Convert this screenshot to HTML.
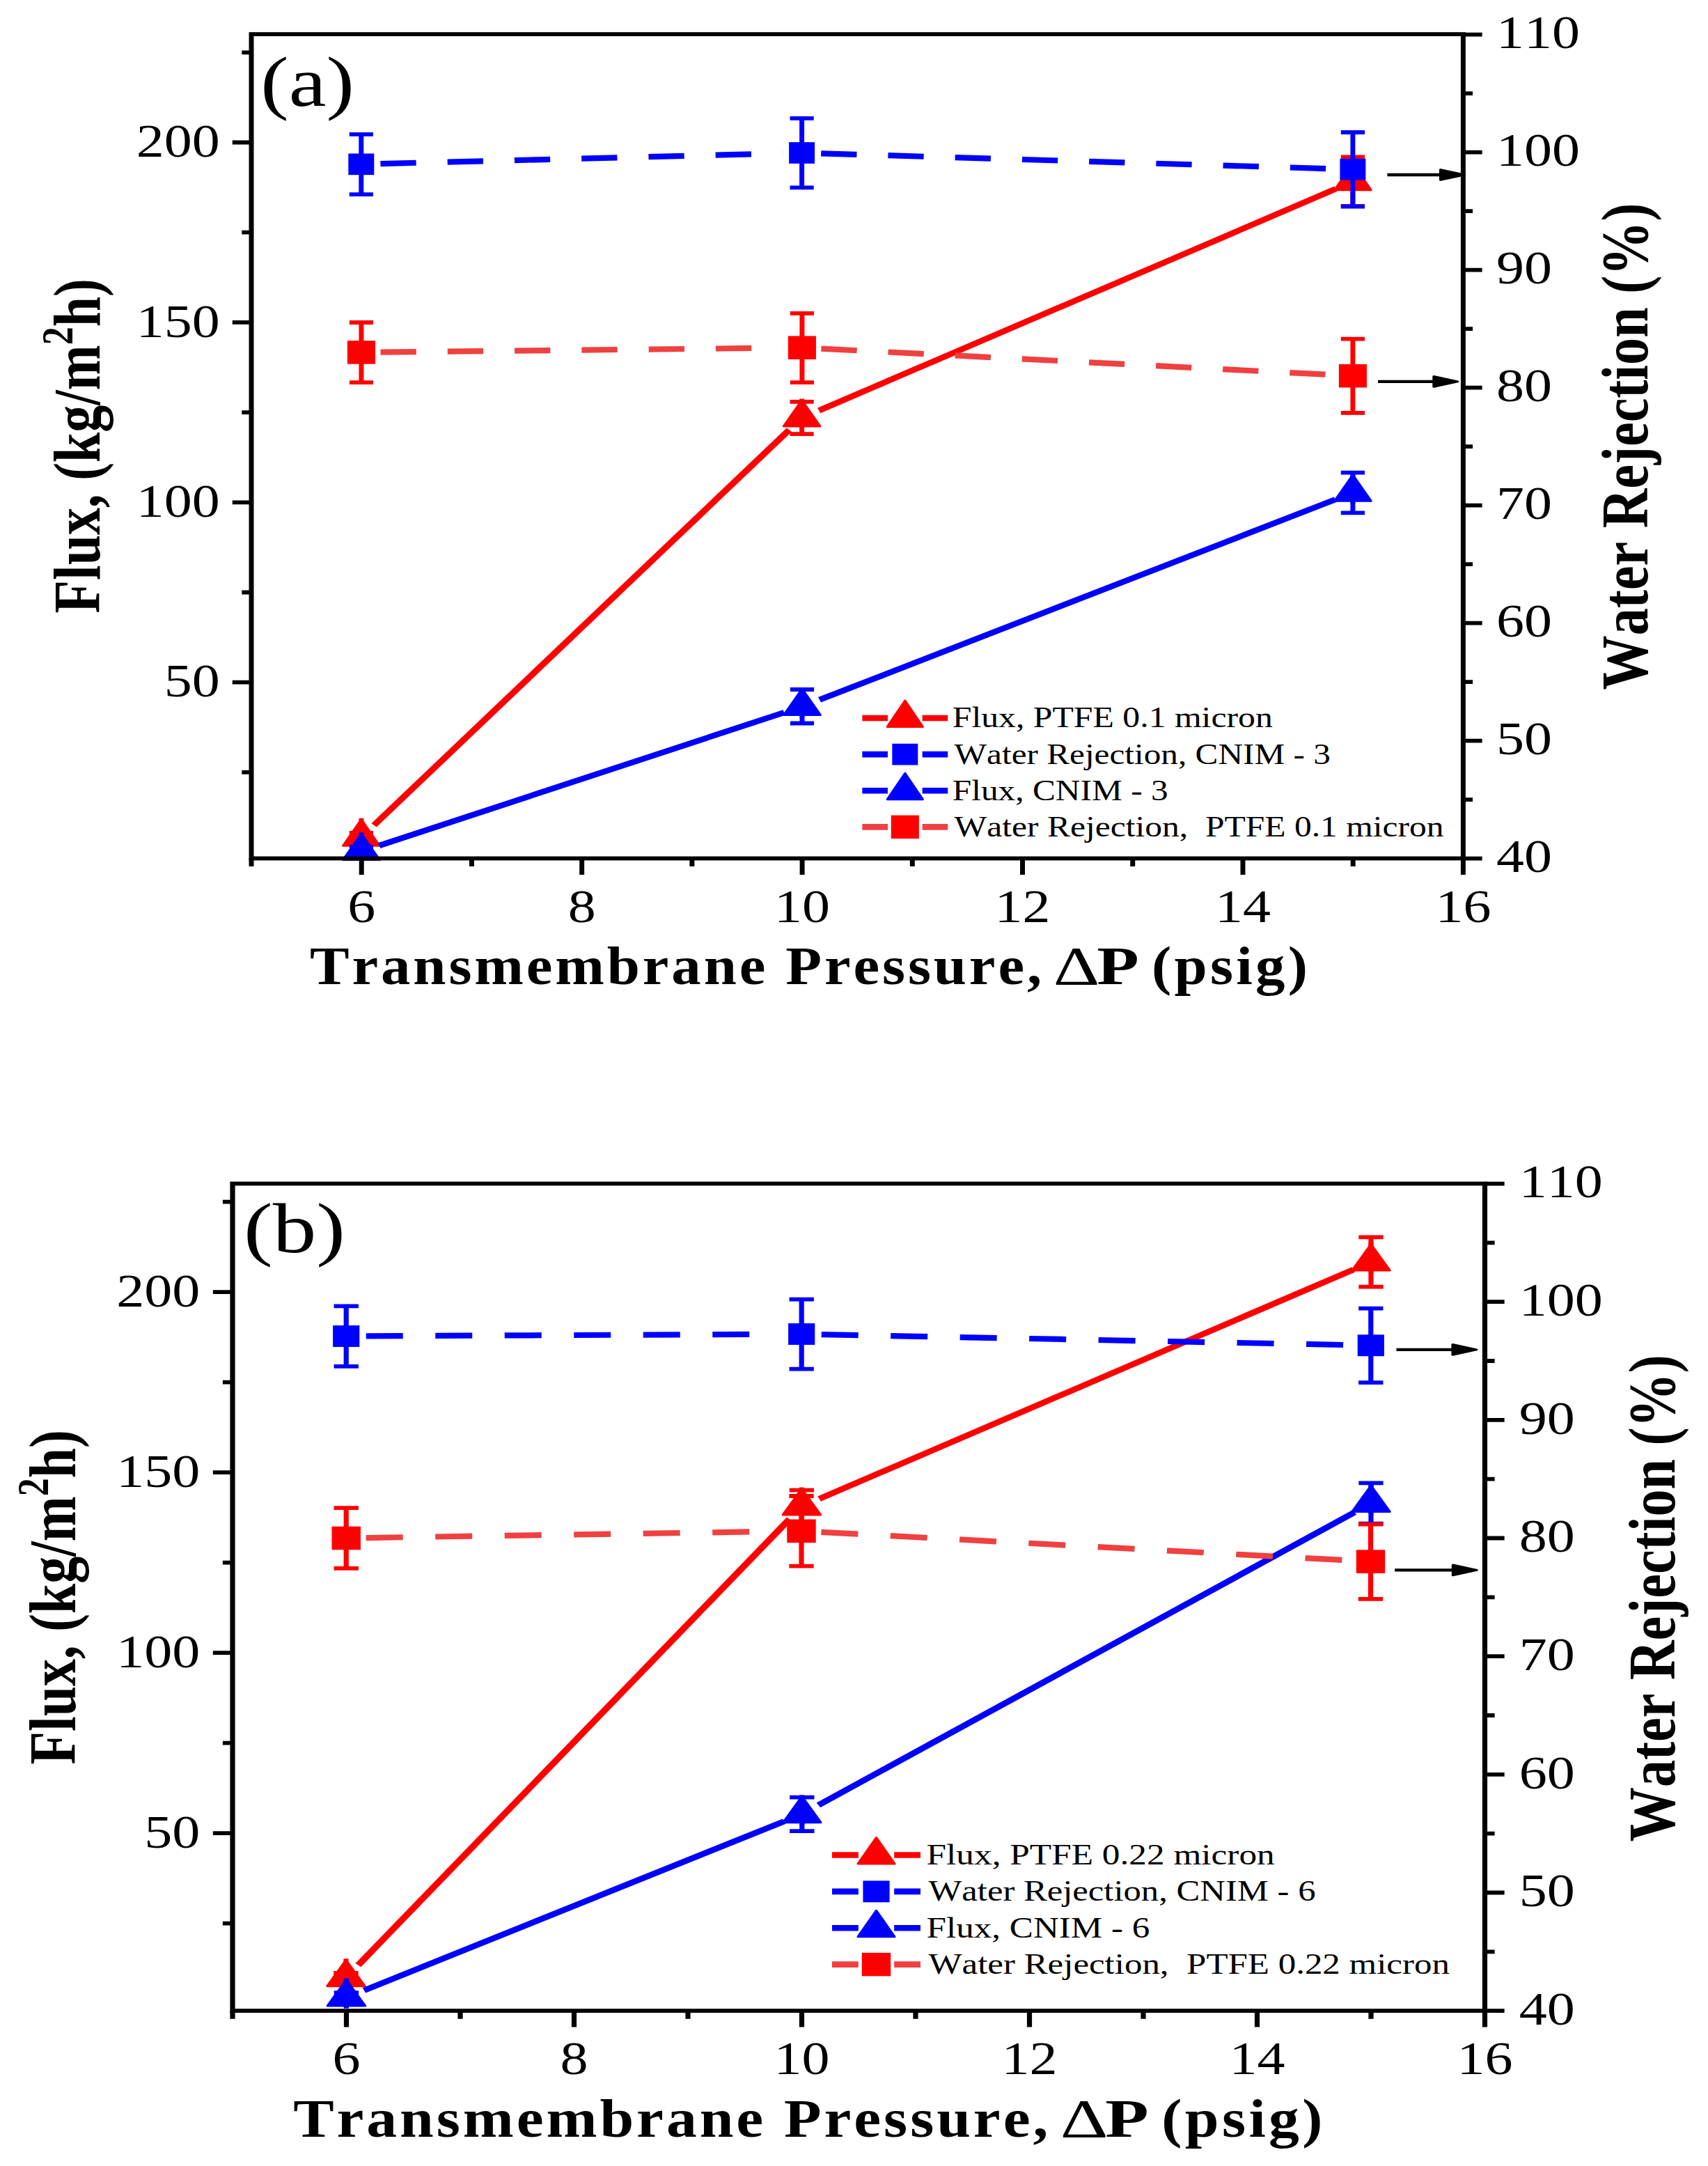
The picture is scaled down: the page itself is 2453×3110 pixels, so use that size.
<!DOCTYPE html>
<html><head><meta charset="utf-8"><title>Flux and water rejection vs transmembrane pressure</title>
<style>
html,body{margin:0;padding:0;background:#fff}
svg{display:block}
text{font-family:"Liberation Serif",serif;fill:#000;font-kerning:none}
</style></head><body>
<svg width="2453" height="3110" viewBox="0 0 2453 3110">
<rect width="2453" height="3110" fill="#fff"/>
<g transform="scale(1.2 1)">
<clipPath id="ca"><rect x="300.83" y="49.1" width="1450.33" height="1187"/></clipPath>
<g clip-path="url(#ca)">
<path d="M447.57 1184.9L944.52 617.3" stroke="#ff0000" stroke-width="8.2" fill="none"/>
<path d="M980.12 589.48L1598.63 271.22" stroke="#ff0000" stroke-width="8.2" fill="none"/>
<path d="M432.42 1196V1208M418.17 1196H446.67M418.17 1208H446.67" stroke="#ff0000" stroke-width="5.8" fill="none"/>
<path d="M959.67 576.8V623.2M945.42 576.8H973.92M945.42 623.2H973.92" stroke="#ff0000" stroke-width="5.8" fill="none"/>
<path d="M1619.08 225.4V296M1604.83 225.4H1633.33M1604.83 296H1633.33" stroke="#ff0000" stroke-width="5.8" fill="none"/>
<polygon points="432.42,1176.85 454.12,1214.15 410.72,1214.15" fill="#ff0000" stroke="#ff0000" stroke-width="3" stroke-linejoin="round"/>
<rect x="429.52" y="1174.8" width="5.8" height="42.9" fill="#ff0000"/>
<polygon points="959.67,574.65 981.37,611.95 937.97,611.95" fill="#ff0000" stroke="#ff0000" stroke-width="3" stroke-linejoin="round"/>
<rect x="956.77" y="572.6" width="5.8" height="42.9" fill="#ff0000"/>
<polygon points="1619.08,235.35 1640.78,272.65 1597.38,272.65" fill="#ff0000" stroke="#ff0000" stroke-width="3" stroke-linejoin="round"/>
<rect x="1616.18" y="233.3" width="5.8" height="42.9" fill="#ff0000"/>
<path d="M455.32 235.09L936.68 220.21" stroke="#0000ff" stroke-width="8.2" fill="none" stroke-dasharray="42.75 37.5"/>
<path d="M982.65 220.33L1596.1 242.37" stroke="#0000ff" stroke-width="8.2" fill="none" stroke-dasharray="42.75 37.5"/>
<path d="M432.33 192.9V279.1M418.08 192.9H446.58M418.08 279.1H446.58" stroke="#0000ff" stroke-width="5.8" fill="none"/>
<path d="M959.67 169.8V269.3M945.42 169.8H973.92M945.42 269.3H973.92" stroke="#0000ff" stroke-width="5.8" fill="none"/>
<path d="M1619.08 190V296.5M1604.83 190H1633.33M1604.83 296.5H1633.33" stroke="#0000ff" stroke-width="5.8" fill="none"/>
<rect x="416.93" y="220.45" width="30.8" height="30.7" fill="#0000ff"/>
<rect x="944.27" y="204.15" width="30.8" height="30.7" fill="#0000ff"/>
<rect x="1603.68" y="227.85" width="30.8" height="30.7" fill="#0000ff"/>
<path d="M453.81 1214.16L938.6 1022.94" stroke="#0000ff" stroke-width="8.2" fill="none"/>
<path d="M980.85 1004.79L1598.24 717.11" stroke="#0000ff" stroke-width="8.2" fill="none"/>
<path d="M432.42 1216V1229M418.17 1216H446.67M418.17 1229H446.67" stroke="#0000ff" stroke-width="5.8" fill="none"/>
<path d="M960 990V1038.5M945.75 990H974.25M945.75 1038.5H974.25" stroke="#0000ff" stroke-width="5.8" fill="none"/>
<path d="M1619.08 678.6V736.4M1604.83 678.6H1633.33M1604.83 736.4H1633.33" stroke="#0000ff" stroke-width="5.8" fill="none"/>
<polygon points="432.42,1197.25 454.12,1234.55 410.72,1234.55" fill="#0000ff" stroke="#0000ff" stroke-width="3" stroke-linejoin="round"/>
<rect x="429.52" y="1195.2" width="5.8" height="42.9" fill="#0000ff"/>
<polygon points="960,989.15 981.7,1026.45 938.3,1026.45" fill="#0000ff" stroke="#0000ff" stroke-width="3" stroke-linejoin="round"/>
<rect x="957.1" y="987.1" width="5.8" height="42.9" fill="#0000ff"/>
<polygon points="1619.08,682.05 1640.78,719.35 1597.38,719.35" fill="#0000ff" stroke="#0000ff" stroke-width="3" stroke-linejoin="round"/>
<rect x="1616.18" y="680" width="5.8" height="42.9" fill="#0000ff"/>
<path d="M455.41 505.61L936.92 499.49" stroke="#f04040" stroke-width="8.2" fill="none" stroke-dasharray="42.75 37.5"/>
<path d="M982.87 500.61L1596.13 538.29" stroke="#f04040" stroke-width="8.2" fill="none" stroke-dasharray="42.75 37.5"/>
<path d="M432.42 463V549.2M418.17 463H446.67M418.17 549.2H446.67" stroke="#ff0000" stroke-width="5.8" fill="none"/>
<path d="M959.92 449.9V549.2M945.67 449.9H974.17M945.67 549.2H974.17" stroke="#ff0000" stroke-width="5.8" fill="none"/>
<path d="M1619.08 486.7V592.8M1604.83 486.7H1633.33M1604.83 592.8H1633.33" stroke="#ff0000" stroke-width="5.8" fill="none"/>
<rect x="415.72" y="489.15" width="33.4" height="33.5" fill="#ff0000"/>
<rect x="943.22" y="482.45" width="33.4" height="33.5" fill="#ff0000"/>
<rect x="1602.38" y="522.95" width="33.4" height="33.5" fill="#ff0000"/>
</g>
<rect x="300.83" y="49.1" width="1450.33" height="1183.4" fill="none" stroke="#000" stroke-width="5.8"/>
<path d="M300.83 1232.5v11.6M432.68 1232.5v23.4M564.53 1232.5v11.6M696.38 1232.5v23.4M828.23 1232.5v11.6M960.08 1232.5v23.4M1091.92 1232.5v11.6M1223.77 1232.5v23.4M1355.62 1232.5v11.6M1487.47 1232.5v23.4M1619.32 1232.5v11.6M1751.17 1232.5v23.4M300.83 1108.9h-11.4M300.83 979.7h-22.7M300.83 850.5h-11.4M300.83 721.3h-22.7M300.83 592.1h-11.4M300.83 462.9h-22.7M300.83 333.7h-11.4M300.83 204.5h-22.7M300.83 75.3h-11.4M1751.17 1232.6h22.7M1751.17 1148.1h11.4M1751.17 1063.6h22.7M1751.17 979.1h11.4M1751.17 894.6h22.7M1751.17 810.1h11.4M1751.17 725.6h22.7M1751.17 641.1h11.4M1751.17 556.6h22.7M1751.17 472.1h11.4M1751.17 387.6h22.7M1751.17 303.1h11.4M1751.17 218.6h22.7M1751.17 134.1h11.4M1751.17 49.6h22.7" stroke="#000" stroke-width="5.8" fill="none"/>
<text transform="translate(432.68 1324.3) scale(0.98 1)" font-size="68" text-anchor="middle">6</text>
<text transform="translate(696.38 1324.3) scale(0.98 1)" font-size="68" text-anchor="middle">8</text>
<text transform="translate(960.08 1324.3) scale(0.98 1)" font-size="68" text-anchor="middle">10</text>
<text transform="translate(1223.77 1324.3) scale(0.98 1)" font-size="68" text-anchor="middle">12</text>
<text transform="translate(1487.47 1324.3) scale(0.98 1)" font-size="68" text-anchor="middle">14</text>
<text transform="translate(1751.17 1324.3) scale(0.98 1)" font-size="68" text-anchor="middle">16</text>
<text transform="translate(263.17 1000.4) scale(0.98 1)" font-size="68" text-anchor="end">50</text>
<text transform="translate(263.17 742) scale(0.98 1)" font-size="68" text-anchor="end">100</text>
<text transform="translate(263.17 483.6) scale(0.98 1)" font-size="68" text-anchor="end">150</text>
<text transform="translate(263.17 225.2) scale(0.98 1)" font-size="68" text-anchor="end">200</text>
<text transform="translate(1790.83 1252.3) scale(0.98 1)" font-size="68">40</text>
<text transform="translate(1790.83 1083.3) scale(0.98 1)" font-size="68">50</text>
<text transform="translate(1790.83 914.3) scale(0.98 1)" font-size="68">60</text>
<text transform="translate(1790.83 745.3) scale(0.98 1)" font-size="68">70</text>
<text transform="translate(1790.83 576.3) scale(0.98 1)" font-size="68">80</text>
<text transform="translate(1790.83 407.3) scale(0.98 1)" font-size="68">90</text>
<text transform="translate(1790.83 238.3) scale(0.98 1)" font-size="68">100</text>
<text transform="translate(1790.83 69.3) scale(0.98 1)" font-size="68">110</text>
<text transform="translate(370.92 1413.2) scale(0.9 1)" font-size="78.5" font-weight="bold" textLength="973.15" lengthAdjust="spacing">Transmembrane Pressure,</text>
<text transform="translate(1260.67 1413.2) scale(1.1 1)" font-size="78.5">Δ</text>
<text transform="translate(1312.75 1413.2) scale(1.05 1)" font-size="78.5" font-weight="bold">P</text>
<text transform="translate(1378.33 1413.2) scale(0.9 1)" font-size="78.5" font-weight="bold" textLength="207.41" lengthAdjust="spacing">(psig)</text>
<text transform="translate(118.92 880.5) rotate(-90) scale(1 1.02)" font-size="77.9" font-weight="bold">Flux, (kg/m<tspan font-size="52" dy="-32">2</tspan><tspan dy="32">h)</tspan></text>
<text transform="translate(1971.5 990.5) rotate(-90) scale(1 1.02)" font-size="78.2" font-weight="bold">Water Rejection (%)</text>
<text x="311.92" y="152.3" font-size="101">(a)</text>
<path d="M1031.97 1031H1062.47M1103.87 1031H1134.37" stroke="#ff0000" stroke-width="8.7" fill="none"/>
<polygon points="1083.17,1006.15 1104.27,1043.45 1062.07,1043.45" fill="#ff0000" stroke="#ff0000" stroke-width="3" stroke-linejoin="round"/>
<text x="1139.83" y="1044.5" font-size="41.4" textLength="383.33" lengthAdjust="spacingAndGlyphs" xml:space="preserve">Flux, PTFE 0.1 micron</text>
<path d="M1031.97 1083.13H1062.47M1103.87 1083.13H1134.37" stroke="#0000ff" stroke-width="8.7" fill="none"/>
<rect x="1067.77" y="1067.78" width="30.8" height="30.7" fill="#0000ff"/>
<text x="1142.17" y="1096.63" font-size="41.4" textLength="450.25" lengthAdjust="spacingAndGlyphs" xml:space="preserve">Water Rejection, CNIM - 3</text>
<path d="M1031.97 1135.26H1062.47M1103.87 1135.26H1134.37" stroke="#0000ff" stroke-width="8.7" fill="none"/>
<polygon points="1083.17,1110.41 1104.27,1147.71 1062.07,1147.71" fill="#0000ff" stroke="#0000ff" stroke-width="3" stroke-linejoin="round"/>
<text x="1139.83" y="1148.76" font-size="41.4" textLength="258.17" lengthAdjust="spacingAndGlyphs" xml:space="preserve">Flux, CNIM - 3</text>
<path d="M1031.97 1187.39H1062.47M1103.87 1187.39H1134.37" stroke="#f04040" stroke-width="8.7" fill="none"/>
<rect x="1066.47" y="1170.64" width="33.4" height="33.5" fill="#ff0000"/>
<text x="1142.17" y="1200.89" font-size="41.4" textLength="585.83" lengthAdjust="spacingAndGlyphs" xml:space="preserve">Water Rejection,  PTFE 0.1 micron</text>
<path d="M1660.33 251H1724.5" stroke="#000" stroke-width="4.4" fill="none"/>
<polygon points="1724,243.6 1752.75,251 1724,258.4" fill="#000" stroke="#000" stroke-width="3" stroke-linejoin="round"/>
<path d="M1649.17 547.9H1716.42" stroke="#000" stroke-width="4.4" fill="none"/>
<polygon points="1715.92,540.5 1744.67,547.9 1715.92,555.3" fill="#000" stroke="#000" stroke-width="3" stroke-linejoin="round"/>
</g>
<g transform="scale(1.24 1)">
<clipPath id="cb"><rect x="269.35" y="1699.5" width="1450.4" height="1191.2"/></clipPath>
<g clip-path="url(#cb)">
<path d="M414.87 2821.61L914.4 2181.14" stroke="#ff0000" stroke-width="8.2" fill="none"/>
<path d="M948.85 2152.19L1567.6 1822.81" stroke="#ff0000" stroke-width="8.2" fill="none"/>
<path d="M400.73 2833V2846.5M386.48 2833H414.98M386.48 2846.5H414.98" stroke="#ff0000" stroke-width="5.8" fill="none"/>
<path d="M928.55 2139.7V2186.3M914.3 2139.7H942.8M914.3 2186.3H942.8" stroke="#ff0000" stroke-width="5.8" fill="none"/>
<path d="M1587.9 1776.3V1847.7M1573.65 1776.3H1602.15M1573.65 1847.7H1602.15" stroke="#ff0000" stroke-width="5.8" fill="none"/>
<polygon points="400.73,2814.4 422.43,2851.7 379.03,2851.7" fill="#ff0000" stroke="#ff0000" stroke-width="3" stroke-linejoin="round"/>
<rect x="397.83" y="2812.35" width="5.8" height="42.9" fill="#ff0000"/>
<polygon points="928.55,2137.65 950.25,2174.95 906.85,2174.95" fill="#ff0000" stroke="#ff0000" stroke-width="3" stroke-linejoin="round"/>
<rect x="925.65" y="2135.6" width="5.8" height="42.9" fill="#ff0000"/>
<polygon points="1587.9,1786.65 1609.6,1823.95 1566.2,1823.95" fill="#ff0000" stroke="#ff0000" stroke-width="3" stroke-linejoin="round"/>
<rect x="1585" y="1784.6" width="5.8" height="42.9" fill="#ff0000"/>
<path d="M423.97 1918.37L905.39 1915.63" stroke="#0000ff" stroke-width="8.2" fill="none" stroke-dasharray="42.75 37.5"/>
<path d="M951.38 1916.07L1564.75 1931.23" stroke="#0000ff" stroke-width="8.2" fill="none" stroke-dasharray="42.75 37.5"/>
<path d="M400.97 1875.3V1961.9M386.72 1875.3H415.22M386.72 1961.9H415.22" stroke="#0000ff" stroke-width="5.8" fill="none"/>
<path d="M928.39 1865.6V1965.6M914.14 1865.6H942.64M914.14 1965.6H942.64" stroke="#0000ff" stroke-width="5.8" fill="none"/>
<path d="M1587.74 1878.6V1985.2M1573.49 1878.6H1601.99M1573.49 1985.2H1601.99" stroke="#0000ff" stroke-width="5.8" fill="none"/>
<rect x="385.57" y="1903.05" width="30.8" height="30.9" fill="#0000ff"/>
<rect x="912.99" y="1900.05" width="30.8" height="30.9" fill="#0000ff"/>
<rect x="1572.34" y="1916.35" width="30.8" height="30.9" fill="#0000ff"/>
<path d="M421.71 2857.83L908.29 2615.07" stroke="#0000ff" stroke-width="8.2" fill="none"/>
<path d="M947.91 2591.9L1568.86 2171.4" stroke="#0000ff" stroke-width="8.2" fill="none"/>
<path d="M401.13 2861.2V2875M386.88 2861.2H415.38M386.88 2875H415.38" stroke="#0000ff" stroke-width="5.8" fill="none"/>
<path d="M928.87 2580.7V2629.2M914.62 2580.7H943.12M914.62 2629.2H943.12" stroke="#0000ff" stroke-width="5.8" fill="none"/>
<path d="M1587.9 2129.3V2187.7M1573.65 2129.3H1602.15M1573.65 2187.7H1602.15" stroke="#0000ff" stroke-width="5.8" fill="none"/>
<polygon points="401.13,2842.75 422.83,2880.05 379.43,2880.05" fill="#0000ff" stroke="#0000ff" stroke-width="3" stroke-linejoin="round"/>
<rect x="398.23" y="2840.7" width="5.8" height="42.9" fill="#0000ff"/>
<polygon points="928.87,2579.45 950.57,2616.75 907.17,2616.75" fill="#0000ff" stroke="#0000ff" stroke-width="3" stroke-linejoin="round"/>
<rect x="925.97" y="2577.4" width="5.8" height="42.9" fill="#0000ff"/>
<polygon points="1587.9,2133.15 1609.6,2170.45 1566.2,2170.45" fill="#0000ff" stroke="#0000ff" stroke-width="3" stroke-linejoin="round"/>
<rect x="1585" y="2131.1" width="5.8" height="42.9" fill="#0000ff"/>
<path d="M423.96 2208.06L905.23 2198.74" stroke="#f04040" stroke-width="8.2" fill="none" stroke-dasharray="42.75 37.5"/>
<path d="M951.18 2199.82L1564.55 2240.58" stroke="#f04040" stroke-width="8.2" fill="none" stroke-dasharray="42.75 37.5"/>
<path d="M400.97 2165.2V2251.9M386.72 2165.2H415.22M386.72 2251.9H415.22" stroke="#ff0000" stroke-width="5.8" fill="none"/>
<path d="M928.23 2148V2248.6M913.98 2148H942.48M913.98 2248.6H942.48" stroke="#ff0000" stroke-width="5.8" fill="none"/>
<path d="M1587.5 2188.6V2295.9M1573.25 2188.6H1601.75M1573.25 2295.9H1601.75" stroke="#ff0000" stroke-width="5.8" fill="none"/>
<rect x="384.27" y="2191.75" width="33.4" height="33.5" fill="#ff0000"/>
<rect x="911.53" y="2181.55" width="33.4" height="33.5" fill="#ff0000"/>
<rect x="1570.8" y="2225.35" width="33.4" height="33.5" fill="#ff0000"/>
</g>
<rect x="269.35" y="1699.5" width="1450.4" height="1187.6" fill="none" stroke="#000" stroke-width="5.8"/>
<path d="M269.35 2887.1v11.6M401.21 2887.1v23.4M533.06 2887.1v11.6M664.92 2887.1v23.4M796.77 2887.1v11.6M928.63 2887.1v23.4M1060.48 2887.1v11.6M1192.34 2887.1v23.4M1324.19 2887.1v11.6M1456.05 2887.1v23.4M1587.9 2887.1v11.6M1719.76 2887.1v23.4M269.35 2761.7h-11.4M269.35 2632.2h-22.7M269.35 2502.7h-11.4M269.35 2373.2h-22.7M269.35 2243.7h-11.4M269.35 2114.2h-22.7M269.35 1984.7h-11.4M269.35 1855.2h-22.7M269.35 1725.7h-11.4M1719.76 2887.15h22.7M1719.76 2802.32h11.4M1719.76 2717.49h22.7M1719.76 2632.66h11.4M1719.76 2547.83h22.7M1719.76 2463h11.4M1719.76 2378.17h22.7M1719.76 2293.34h11.4M1719.76 2208.51h22.7M1719.76 2123.68h11.4M1719.76 2038.85h22.7M1719.76 1954.02h11.4M1719.76 1869.19h22.7M1719.76 1784.36h11.4M1719.76 1699.53h22.7" stroke="#000" stroke-width="5.8" fill="none"/>
<text transform="translate(401.21 2978.1) scale(0.95 1)" font-size="68" text-anchor="middle">6</text>
<text transform="translate(664.92 2978.1) scale(0.95 1)" font-size="68" text-anchor="middle">8</text>
<text transform="translate(928.63 2978.1) scale(0.95 1)" font-size="68" text-anchor="middle">10</text>
<text transform="translate(1192.34 2978.1) scale(0.95 1)" font-size="68" text-anchor="middle">12</text>
<text transform="translate(1456.05 2978.1) scale(0.95 1)" font-size="68" text-anchor="middle">14</text>
<text transform="translate(1719.76 2978.1) scale(0.95 1)" font-size="68" text-anchor="middle">16</text>
<text transform="translate(231.69 2652.9) scale(0.95 1)" font-size="68" text-anchor="end">50</text>
<text transform="translate(231.69 2393.9) scale(0.95 1)" font-size="68" text-anchor="end">100</text>
<text transform="translate(231.69 2134.9) scale(0.95 1)" font-size="68" text-anchor="end">150</text>
<text transform="translate(231.69 1875.9) scale(0.95 1)" font-size="68" text-anchor="end">200</text>
<text transform="translate(1759.42 2906.85) scale(0.95 1)" font-size="68">40</text>
<text transform="translate(1759.42 2737.19) scale(0.95 1)" font-size="68">50</text>
<text transform="translate(1759.42 2567.53) scale(0.95 1)" font-size="68">60</text>
<text transform="translate(1759.42 2397.87) scale(0.95 1)" font-size="68">70</text>
<text transform="translate(1759.42 2228.21) scale(0.95 1)" font-size="68">80</text>
<text transform="translate(1759.42 2058.55) scale(0.95 1)" font-size="68">90</text>
<text transform="translate(1759.42 1888.89) scale(0.95 1)" font-size="68">100</text>
<text transform="translate(1759.42 1719.23) scale(0.95 1)" font-size="68">110</text>
<text transform="translate(339.64 3068) scale(0.9 1)" font-size="78.5" font-weight="bold" textLength="971.56" lengthAdjust="spacing">Transmembrane Pressure,</text>
<text transform="translate(1227.94 3068) scale(1.1 1)" font-size="78.5">Δ</text>
<text transform="translate(1279.94 3068) scale(1.05 1)" font-size="78.5" font-weight="bold">P</text>
<text transform="translate(1345.42 3068) scale(0.9 1)" font-size="78.5" font-weight="bold" textLength="207.07" lengthAdjust="spacing">(psig)</text>
<text transform="translate(87.1 2533.5) rotate(-90) scale(1 0.98)" font-size="77.9" font-weight="bold">Flux, (kg/m<tspan font-size="52" dy="-32">2</tspan><tspan dy="32">h)</tspan></text>
<text transform="translate(1939.52 2644.3) rotate(-90) scale(1 0.98)" font-size="78.2" font-weight="bold">Water Rejection (%)</text>
<text x="282.26" y="1798.2" font-size="101">(b)</text>
<path d="M963.72 2663.5H994.22M1035.62 2663.5H1066.12" stroke="#ff0000" stroke-width="8.7" fill="none"/>
<polygon points="1014.92,2638.65 1036.02,2675.95 993.82,2675.95" fill="#ff0000" stroke="#ff0000" stroke-width="3" stroke-linejoin="round"/>
<text x="1073.06" y="2677" font-size="41.4" textLength="403.31" lengthAdjust="spacingAndGlyphs" xml:space="preserve">Flux, PTFE 0.22 micron</text>
<path d="M963.72 2715.87H994.22M1035.62 2715.87H1066.12" stroke="#0000ff" stroke-width="8.7" fill="none"/>
<rect x="999.52" y="2700.42" width="30.8" height="30.9" fill="#0000ff"/>
<text x="1075.4" y="2729.37" font-size="41.4" textLength="448.39" lengthAdjust="spacingAndGlyphs" xml:space="preserve">Water Rejection, CNIM - 6</text>
<path d="M963.72 2768.24H994.22M1035.62 2768.24H1066.12" stroke="#0000ff" stroke-width="8.7" fill="none"/>
<polygon points="1014.92,2743.39 1036.02,2780.69 993.82,2780.69" fill="#0000ff" stroke="#0000ff" stroke-width="3" stroke-linejoin="round"/>
<text x="1073.06" y="2781.74" font-size="41.4" textLength="258.71" lengthAdjust="spacingAndGlyphs" xml:space="preserve">Flux, CNIM - 6</text>
<path d="M963.72 2820.61H994.22M1035.62 2820.61H1066.12" stroke="#f04040" stroke-width="8.7" fill="none"/>
<rect x="998.22" y="2803.86" width="33.4" height="33.5" fill="#ff0000"/>
<text x="1075.4" y="2834.11" font-size="41.4" textLength="603.55" lengthAdjust="spacingAndGlyphs" xml:space="preserve">Water Rejection,  PTFE 0.22 micron</text>
<path d="M1617.34 1937.9H1682.97" stroke="#000" stroke-width="4.4" fill="none"/>
<polygon points="1682.47,1930.5 1710.17,1937.9 1682.47,1945.3" fill="#000" stroke="#000" stroke-width="3" stroke-linejoin="round"/>
<path d="M1615.48 2254.4H1683.29" stroke="#000" stroke-width="4.4" fill="none"/>
<polygon points="1682.79,2247 1710.49,2254.4 1682.79,2261.8" fill="#000" stroke="#000" stroke-width="3" stroke-linejoin="round"/>
</g>
</svg>
</body></html>
